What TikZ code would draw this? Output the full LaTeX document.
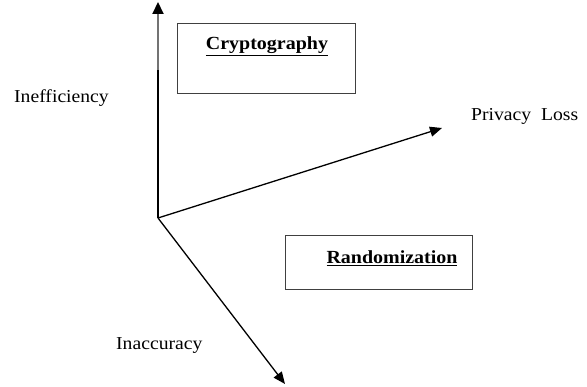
\documentclass[tikz,border=0pt]{standalone}
\usepackage{fontspec}
\setmainfont[FakeStretch=1.08]{Liberation Serif}
\usetikzlibrary{arrows.meta}
\begin{document}
\begin{tikzpicture}[x=1pt,y=-1pt,
  axis/.style={line width=1.3pt,-{Triangle[length=12pt,width=10pt]}},
  lbl/.style={font=\fontsize{18.2}{21}\selectfont,inner sep=0pt},
  ttl/.style={font=\fontsize{18.5}{21}\selectfont\bfseries,inner sep=0pt}]
\useasboundingbox (0,0) rectangle (587,387);
\coordinate (O) at (158,218);
\coordinate (mid) at (158,70);
\coordinate (top) at (158,2);
\coordinate (pl) at (442,128);
\coordinate (ia) at (285,384);
% axes
\draw[line width=2pt] (O) -- (mid);
\draw[line width=2pt,black!55,-{Triangle[length=12pt,width=11pt,color=black]}] (mid) -- (top);
\draw[axis] (O) -- (pl);
\draw[axis] (O) -- (ia);
% boxes
\draw[draw=black!75,line width=0.9pt] (177,23) rectangle (355,93);
\node[ttl] (crypto) at (267,46) {\underline{Cryptography}};
\draw[draw=black!75,line width=0.9pt] (285,235) rectangle (472,289);
\node[ttl] (rand) at (392,258) {\underline{Randomization}};
% labels
\node[lbl,anchor=west] (ineff) at (14,98) {Inefficiency};
\node[lbl,anchor=west] (ploss) at (471,116) {Privacy\ \ Loss};
\node[lbl,anchor=west] (inacc) at (116,346) {Inaccuracy};
\end{tikzpicture}
\end{document}
